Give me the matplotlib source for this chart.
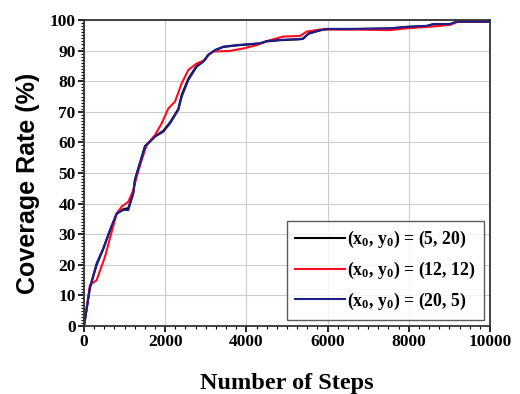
import matplotlib
matplotlib.use("Agg")
import matplotlib.pyplot as plt
from matplotlib.ticker import MultipleLocator

plt.rcParams['mathtext.fontset'] = 'custom'
plt.rcParams['mathtext.rm'] = 'Liberation Serif:bold'
plt.rcParams['mathtext.it'] = 'Liberation Serif:bold'
plt.rcParams['mathtext.bf'] = 'Liberation Serif:bold'
plt.rcParams['mathtext.default'] = 'rm'

# Blue curve (x0, y0) = (20, 5)
steps_blue = [0, 148, 312, 476, 640, 805, 970, 1092, 1215, 1256, 1380, 1502, 1749, 1954, 2118,
              2323, 2406, 2570, 2775, 2939, 3062, 3227, 3431, 3760, 4335, 4499, 4828, 5320, 5402,
              5525, 5813, 5978, 6552, 7537, 7948, 8441, 8604, 9015, 9180, 10000]
cov_blue = [0, 12.7, 20.5, 25.4, 31.4, 36.8, 37.9, 37.9, 43.4, 47.7, 53.2, 58.6, 61.9, 63.5, 66.2,
            70.6, 74.9, 80.4, 84.7, 86.4, 88.6, 90.2, 91.3, 91.8, 92.4, 93.1, 93.5, 93.8, 94.0,
            95.6, 96.7, 97.1, 97.1, 97.3, 97.8, 98.1, 98.7, 98.7, 99.5, 99.5]

# Red curve (x0, y0) = (12, 12)
steps_red = [0, 148, 312, 517, 682, 805, 928, 1092, 1215, 1297, 1420, 1544, 1749, 1913, 2077,
             2241, 2406, 2570, 2775, 2980, 3062, 3185, 3596, 3924, 4253, 4499, 4910, 5320, 5484,
             5813, 6552, 7537, 7948, 8522, 9015, 9220, 10000]
cov_red = [0, 13.4, 15.0, 22.6, 30.8, 36.8, 39.0, 40.6, 44.4, 48.8, 54.2, 59.2, 62.4, 66.2, 71.1,
           73.3, 79.3, 83.7, 85.8, 86.9, 88.6, 89.7, 89.9, 90.7, 91.8, 93.1, 94.6, 94.8, 96.2,
           96.9, 96.9, 96.7, 97.3, 97.8, 98.4, 99.5, 99.5]

# Black curve (x0, y0) = (5, 20), almost hidden below the blue one
steps_black = [0, 148, 312, 476, 640, 805, 970, 1092, 1215, 1256, 1380, 1502, 1749, 1954, 2118,
               2323, 2406, 2570, 2775, 2939, 3062, 3227, 3431, 3760, 4335, 4499, 4828, 5320, 5402,
               5525, 5813, 5978, 6552, 7537, 7948, 8441, 8604, 9015, 9180, 10000]
cov_black = [0, 12.5, 20.0, 25.2, 31.2, 36.6, 38.2, 38.5, 43.6, 47.9, 53.4, 58.8, 62.0, 63.8, 66.5,
             70.9, 75.5, 80.8, 85.0, 86.5, 88.6, 90.1, 91.2, 91.7, 92.3, 93.0, 93.4, 93.7, 93.9,
             95.5, 96.6, 97.0, 97.0, 97.2, 97.7, 98.0, 98.6, 98.6, 99.4, 99.4]

labels = ['(x$_0$, y$_0$) = (5, 20)', '(x$_0$, y$_0$) = (12, 12)', '(x$_0$, y$_0$) = (20, 5)']

fig = plt.figure(figsize=(5.2, 3.94), dpi=100)
ax = fig.add_axes([0.1615, 0.1726, 0.7808, 0.7766])

ax.plot(steps_black, cov_black, color='black', lw=1.5, label=labels[0])
ax.plot(steps_red, cov_red, color='#ff0a1e', lw=1.5, label=labels[1])
ax.plot(steps_blue, cov_blue, color='#1e1e8c', lw=1.5, label=labels[2])

ax.set_xlim(0, 10000)
ax.set_ylim(0, 100)
ax.xaxis.set_major_locator(MultipleLocator(2000))
ax.xaxis.set_minor_locator(MultipleLocator(250))
ax.yaxis.set_major_locator(MultipleLocator(10))
ax.yaxis.set_minor_locator(MultipleLocator(1))
ax.grid(True, which='major', color='#cccccc', lw=0.8)
ax.set_axisbelow(True)

for s in ax.spines.values():
    s.set_linewidth(1.3)
    s.set_color('#333333')

ax.tick_params(which='major', direction='out', length=4, width=1.2, labelsize=12.5, pad=2)
ax.tick_params(which='minor', direction='out', length=2.5, width=0.8)
for lab in ax.get_xticklabels() + ax.get_yticklabels():
    lab.set_fontfamily('Liberation Serif')
    lab.set_fontweight('bold')

ax.set_xlabel('Number of Steps', fontfamily='Liberation Serif', fontweight='bold', fontsize=17.5, labelpad=16)
ax.set_ylabel('Coverage Rate (%)', fontfamily='Liberation Sans', fontweight='bold', fontsize=18)
ax.yaxis.set_label_coords(-0.108, 0.465)

leg = ax.legend(loc='lower right', prop={'family': 'Liberation Serif', 'weight': 'bold', 'size': 12.8},
                frameon=True, fancybox=False, edgecolor='#333333', handlelength=2.8,
                handletextpad=0.15, borderaxespad=0.35, labelspacing=0.55, borderpad=0.45)
leg.get_frame().set_linewidth(1.0)

fig.savefig('out.png', dpi=100)
